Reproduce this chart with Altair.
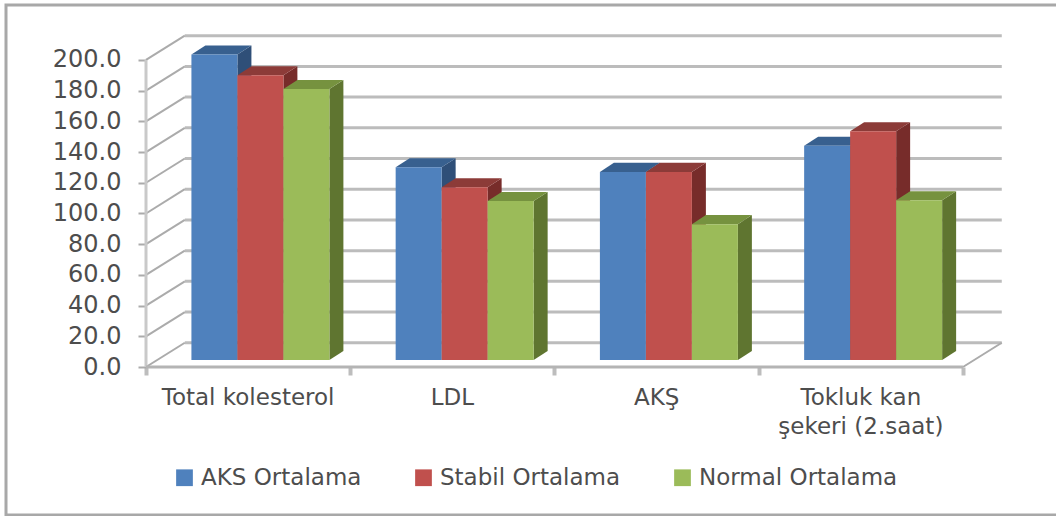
import altair as alt
import pandas as pd

categories = ["Total kolesterol", "LDL", "AKŞ", "Tokluk kan\nşekeri (2.saat)"]
series_names = ["AKS Ortalama", "Stabil Ortalama", "Normal Ortalama"]
aks_values = [199.0, 125.5, 122.5, 139.5]
stabil_values = [185.5, 112.5, 122.5, 149.0]
normal_values = [176.5, 103.5, 88.5, 104.0]
tick_values = [0, 20, 40, 60, 80, 100, 120, 140, 160, 180, 200]

front_colors = ["#4f81bd", "#c0504d", "#9bbb59"]
top_colors = ["#38608f", "#8c3b38", "#76923f"]
side_colors = ["#2f4f78", "#772c2a", "#5f7530"]

FONT = "DejaVu Sans"
TEXT = "#4d4d4d"
GRID = "#bcbcbc"

X_DOMAIN = [0, 4.196]
Y_DOMAIN = [0, 215.6]
x_scale = alt.Scale(domain=X_DOMAIN, nice=False, zero=False)
y_scale = alt.Scale(domain=Y_DOMAIN, nice=False, zero=False)

# Depth of the walls and of the bars, in axis units
WALL_DX, WALL_DY = 0.19, 15.8
BAR_DX, BAR_DY = 0.0685, 5.9
BAR_BASE = 4.56
GROUP_START = 0.2224
BAR_W = 0.2252

n_cat = len(categories)

x_axis = alt.Axis(
    values=list(range(n_cat + 1)),
    labels=False,
    domain=False,
    grid=False,
    tickColor="#bdbdbd",
    tickWidth=4,
    tickSize=8,
    title=None,
)
y_axis = alt.Axis(
    values=tick_values,
    format=".1f",
    domain=False,
    grid=False,
    tickColor="#ababab",
    tickWidth=2,
    tickSize=8,
    labelFont=FONT,
    labelFontSize=24,
    labelColor=TEXT,
    labelPadding=17,
    title=None,
)
X = alt.X("x:Q", scale=x_scale, axis=x_axis)
Y = alt.Y("y:Q", scale=y_scale, axis=y_axis)

# Back wall lines and the slanted lines on the side wall
grid_df = pd.DataFrame({"v": tick_values})
grid_df["y"] = grid_df.v + WALL_DY
grid_df["x"] = WALL_DX
grid_df["x2"] = n_cat + WALL_DX
back_grid = alt.Chart(grid_df).mark_rule(color=GRID, strokeWidth=3).encode(
    x=X, x2="x2:Q", y=Y
)

slant_rows = []
for v in tick_values:
    slant_rows += [
        {"v": v, "x": 0, "y": v},
        {"v": v, "x": WALL_DX, "y": v + WALL_DY},
    ]
slant_rows += [
    {"v": -1, "x": n_cat, "y": 0},
    {"v": -1, "x": n_cat + WALL_DX, "y": WALL_DY},
]
side_grid = alt.Chart(pd.DataFrame(slant_rows)).mark_line(
    color="#ababab", strokeWidth=2
).encode(x=X, y=Y, detail="v:N")

y_axis_line = alt.Chart(pd.DataFrame({"x": [0], "y": [0], "y2": [200]})).mark_rule(
    color="#c9c9c9", strokeWidth=3
).encode(x=X, y=Y, y2="y2:Q")

x_axis_line = alt.Chart(pd.DataFrame({"x": [0], "x2": [n_cat], "y": [0]})).mark_rule(
    color="#b4b4b4", strokeWidth=3
).encode(x=X, x2="x2:Q", y=Y)

# Three faces per bar, one series at a time so later series overlap earlier ones
series_values = [aks_values, stabil_values, normal_values]
bar_layers = []
for s, (name, values) in enumerate(zip(series_names, series_values)):
    front_rows, side_rows, top_rows = [], [], []
    for c, value in enumerate(values):
        left = c + GROUP_START + s * BAR_W
        right = left + BAR_W
        top = value + BAR_BASE
        front_rows.append(
            {"series": name, "x": left, "x2": right, "y": BAR_BASE, "y2": top}
        )
        side_rows += [
            {"c": c, "x": right, "y": BAR_BASE, "y2": top},
            {"c": c, "x": right + BAR_DX, "y": BAR_BASE + BAR_DY, "y2": top + BAR_DY},
        ]
        top_rows += [
            {"c": c, "y": top, "x": left, "x2": right},
            {"c": c, "y": top + BAR_DY, "x": left + BAR_DX, "x2": right + BAR_DX},
        ]
    side = alt.Chart(pd.DataFrame(side_rows)).mark_area(
        color=side_colors[s], orient="vertical"
    ).encode(x=X, y=Y, y2="y2:Q", detail="c:N")
    top_face = alt.Chart(pd.DataFrame(top_rows)).mark_area(
        color=top_colors[s], orient="horizontal"
    ).encode(x=X, x2="x2:Q", y=Y, detail="c:N")
    front = alt.Chart(pd.DataFrame(front_rows)).mark_rect().encode(
        x=X,
        x2="x2:Q",
        y=Y,
        y2="y2:Q",
        color=alt.Color(
            "series:N",
            scale=alt.Scale(domain=series_names, range=front_colors),
            legend=alt.Legend(
                title=None,
                orient="none",
                legendX=27,
                legendY=430,
                direction="horizontal",
                symbolType="square",
                symbolSize=280,
                symbolStrokeWidth=0,
                labelFont=FONT,
                labelFontSize=23,
                labelColor=TEXT,
                labelOffset=5,
                labelLimit=400,
                columnPadding=50,
            ),
        ),
    )
    bar_layers += [side, top_face, front]

# Category names under the floor
label_df = pd.DataFrame(
    {"label": categories, "x": [i + 0.5 for i in range(n_cat)], "y": [-13] * n_cat}
)
cat_labels = alt.Chart(label_df).mark_text(
    font=FONT,
    fontSize=23,
    color=TEXT,
    baseline="top",
    align="center",
    lineBreak="\n",
    lineHeight=29,
).encode(x=X, y=Y, text="label:N")

# Outer border of the chart
frame = alt.Chart(pd.DataFrame({"a": [0]})).mark_rect(
    fillOpacity=0, stroke="#a8a8a8", strokeWidth=3
).encode(
    x=alt.value(-140),
    x2=alt.value(960),
    y=alt.value(-31),
    y2=alt.value(479),
)

chart = alt.layer(
    frame,
    back_grid,
    side_grid,
    y_axis_line,
    x_axis_line,
    *bar_layers,
    cat_labels,
).properties(
    width=857,
    height=331,
    padding={"left": 146, "right": 53, "top": 36, "bottom": 149},
    autosize=alt.AutoSizeParams(type="none"),
    background="white",
).configure_view(stroke=None)

chart.save("out.html", embed_options={"renderer": "svg", "actions": False})
